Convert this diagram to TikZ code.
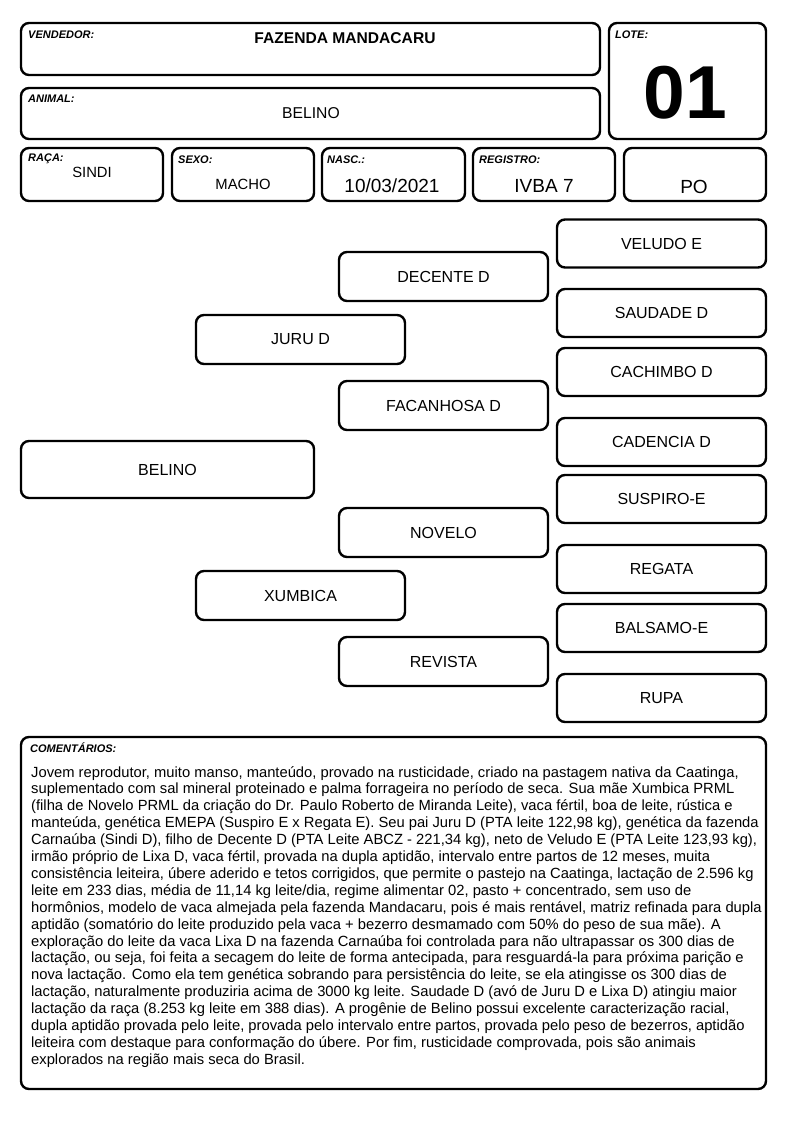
\documentclass[tikz,border=0pt]{standalone}
\usepackage{fontspec}
\setmainfont{Liberation Sans}
\begin{document}
\begin{tikzpicture}[x=1pt,y=-1pt,
  rbox/.style={draw, line width=2.4pt, rounded corners=8pt, inner sep=0pt},
  flab/.style={anchor=west, inner sep=0pt, font=\fontsize{11}{13}\selectfont\bfseries\itshape},
  pname/.style={rbox, minimum width=209pt, minimum height=48pt, font=\fontsize{16}{18}\selectfont},
  fval/.style={inner sep=0pt, font=\fontsize{19}{21}\selectfont}]
\useasboundingbox (0,0) rectangle (794,1123);
% header
\node[rbox, minimum width=579pt, minimum height=52pt] (vend) at (310.5,49) {};
\node[flab] (vendl) at (28,35) {VENDEDOR:};
\node[inner sep=0pt, font=\fontsize{15.6}{17}\selectfont\bfseries] (vendv) at (345,38) {FAZENDA MANDACARU};
\node[rbox, minimum width=579pt, minimum height=51pt] (animal) at (310.5,113.5) {};
\node[flab] (animall) at (28,99) {ANIMAL:};
\node[inner sep=0pt, font=\fontsize{15.7}{17}\selectfont] (animalv) at (311,113) {BELINO};
\node[rbox, minimum width=157pt, minimum height=116pt] (lote) at (687.5,81) {};
\node[flab] (lotel) at (615,35) {LOTE:};
\node[inner sep=0pt, font=\fontsize{75}{80}\selectfont\bfseries] (lotev) at (685,93) {01};
% row of fields
\node[rbox, minimum width=142pt, minimum height=53pt] (raca) at (92,174.5) {};
\node[flab] (racal) at (28,159) {RAÇA:};
\node[inner sep=0pt, font=\fontsize{14.8}{16}\selectfont] (racav) at (92,172) {SINDI};
\node[rbox, minimum width=142pt, minimum height=53pt] (sexo) at (243,174.5) {};
\node[flab] (sexol) at (178,160) {SEXO:};
\node[inner sep=0pt, font=\fontsize{14.8}{16}\selectfont] (sexov) at (243,184) {MACHO};
\node[rbox, minimum width=143pt, minimum height=53pt] (nasc) at (393.5,174.5) {};
\node[flab] (nascl) at (327,160) {NASC.:};
\node[fval] (nascv) at (392,186) {10/03/2021};
\node[rbox, minimum width=142pt, minimum height=53pt] (reg) at (544,174.5) {};
\node[flab] (regl) at (479,160) {REGISTRO:};
\node[fval] (regv) at (544,186) {IVBA 7};
\node[rbox, minimum width=142pt, minimum height=53pt] (po) at (695,174.5) {};
\node[fval] (pov) at (694,187) {PO};
% pedigree
\node[pname] (veludo) at (661.5,243.5) {VELUDO E};
\node[pname, minimum height=49pt] (decente) at (443.5,276.5) {DECENTE D};
\node[pname] (saudade) at (661.5,313) {SAUDADE D};
\node[pname, minimum height=49pt] (juru) at (300.5,339.5) {JURU D};
\node[pname] (cachimbo) at (661.5,372) {CACHIMBO D};
\node[pname, minimum height=49pt] (facanhosa) at (443.5,405.5) {FACANHOSA D};
\node[pname] (cadencia) at (661.5,442) {CADENCIA D};
\node[pname, minimum width=293pt, minimum height=57pt] (belino) at (167.5,469.5) {BELINO};
\node[pname] (suspiro) at (661.5,499) {SUSPIRO-E};
\node[pname, minimum height=49pt] (novelo) at (443.5,532.5) {NOVELO};
\node[pname] (regata) at (661.5,569) {REGATA};
\node[pname, minimum height=49pt] (xumbica) at (300.5,595.5) {XUMBICA};
\node[pname] (balsamo) at (661.5,628) {BALSAMO-E};
\node[pname, minimum height=49pt] (revista) at (443.5,661.5) {REVISTA};
\node[pname] (rupa) at (661.5,698) {RUPA};
% comments
\node[rbox, minimum width=745pt, minimum height=352pt] (coment) at (393.5,913) {};
\node[flab] (comentl) at (30,748) {COMENTÁRIOS:};
\node[anchor=north west, inner sep=0pt, align=left, font=\fontsize{14.75}{16.9}\selectfont] (comentv) at (31,766) {%
Jovem reprodutor, muito manso, manteúdo, provado na rusticidade, criado na pastagem nativa da Caatinga,\\
suplementado com sal mineral proteinado e palma forrageira no período de seca. Sua mãe Xumbica PRML\\
(filha de Novelo PRML da criação do Dr. Paulo Roberto de Miranda Leite), vaca fértil, boa de leite, rústica e\\
manteúda, genética EMEPA (Suspiro E x Regata E). Seu pai Juru D (PTA leite 122,98 kg), genética da fazenda\\
Carnaúba (Sindi D), filho de Decente D (PTA Leite ABCZ - 221,34 kg), neto de Veludo E (PTA Leite 123,93 kg),\\
irmão próprio de Lixa D, vaca fértil, provada na dupla aptidão, intervalo entre partos de 12 meses, muita\\
consistência leiteira, úbere aderido e tetos corrigidos, que permite o pastejo na Caatinga, lactação de 2.596 kg\\
leite em 233 dias, média de 11,14 kg leite/dia, regime alimentar 02, pasto + concentrado, sem uso de\\
hormônios, modelo de vaca almejada pela fazenda Mandacaru, pois é mais rentável, matriz refinada para dupla\\
aptidão (somatório do leite produzido pela vaca + bezerro desmamado com 50\% do peso de sua mãe). A\\
exploração do leite da vaca Lixa D na fazenda Carnaúba foi controlada para não ultrapassar os 300 dias de\\
lactação, ou seja, foi feita a secagem do leite de forma antecipada, para resguardá-la para próxima parição e\\
nova lactação. Como ela tem genética sobrando para persistência do leite, se ela atingisse os 300 dias de\\
lactação, naturalmente produziria acima de 3000 kg leite. Saudade D (avó de Juru D e Lixa D) atingiu maior\\
lactação da raça (8.253 kg leite em 388 dias). A progênie de Belino possui excelente caracterização racial,\\
dupla aptidão provada pelo leite, provada pelo intervalo entre partos, provada pelo peso de bezerros, aptidão\\
leiteira com destaque para conformação do úbere. Por fim, rusticidade comprovada, pois são animais\\
explorados na região mais seca do Brasil.};
\end{tikzpicture}
\end{document}
